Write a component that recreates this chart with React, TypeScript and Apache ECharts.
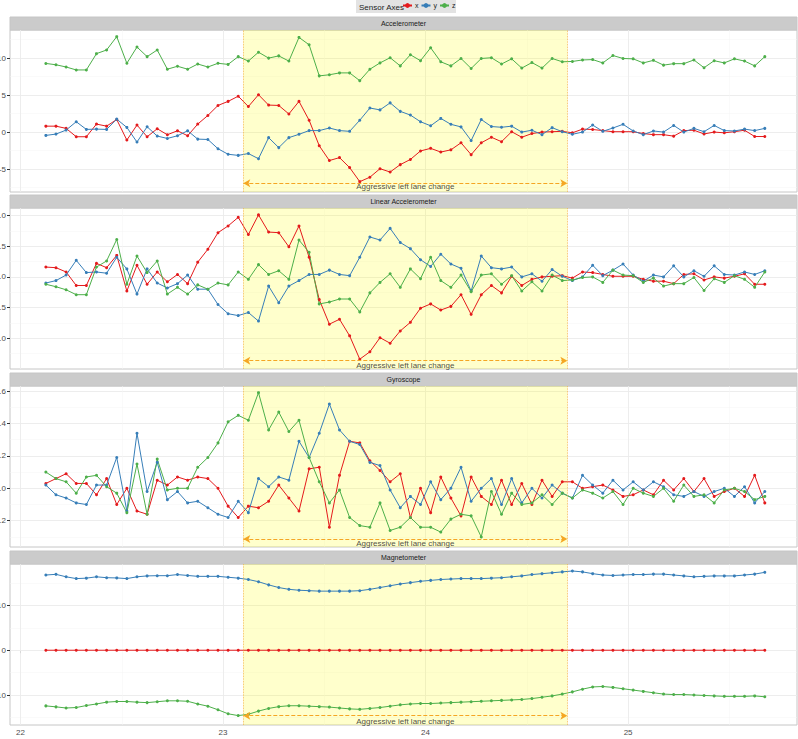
import React, { useEffect, useRef } from "react";
import * as echarts from "echarts";

// sampling grid (20 Hz) of the trip time axis
const times = Array.from({ length: 72 }, (_, i) => Math.round((22.125 + 0.05 * i) * 1000) / 1000);

const accX = [0.8, 0.8, 0.5, -0.63, -0.63, 1.08, 0.8, 1.7, -1.08, 0.95, -0.63, 0.45, -0.36, 0.18, -0.5, 1.08,
  2.25, 3.6, 4.15, 4.85, 3.45, 5.05, 3.65, 3.6, 2.45, 4.15, 1.6, -1.85, -3.85, -3.45, -4.8, -6.7, -6.1, -4.95, -5.4, -4.4,
  -3.7, -2.55, -2.2, -2.7, -2.4, -1.45, -3.05, -1.45, -0.7, -1.3, 0.05, -0.7, -0.2, 0.0, 0.05, 0.1, -0.1, 0.4, 0.35, 0.2,
  0.05, 0.05, 0.05, -0.2, -0.35, -0.35, -0.55, 0.2, 0.25, -0.25, 0.0, -0.1, 0.05, 0.25, -0.6, -0.6];
const accY = [-0.45, -0.27, 0.27, 1.4, 0.36, 0.4, 0.36, 1.75, 0.63, -1.35, 0.72, -0.54, -0.86, -0.5, 0.18, -0.95,
  -1.0, -2.25, -3.0, -3.15, -2.9, -3.6, -0.75, -2.1, -0.75, -0.3, 0.2, 0.2, 0.55, 0.2, 0.1, 1.6, 3.25, 3.0, 3.95, 2.8,
  2.3, 1.4, 0.85, 1.85, 1.05, 0.7, -1.15, 1.7, 0.75, 0.65, 0.8, 0.0, 0.25, -0.35, 0.6, 0.05, -0.3, 0.0, 0.95, 0.1,
  0.55, 1.05, 0.15, -0.35, 0.15, 0.0, 0.9, 0.0, 0.5, 0.05, 0.9, 0.2, 0.15, 0.4, 0.2, 0.5];
const accZ = [9.28, 9.1, 8.8, 8.4, 8.4, 10.6, 11.1, 12.9, 9.3, 11.5, 10.2, 11.1, 8.5, 8.9, 8.5, 9.2,
  8.8, 9.3, 9.15, 10.2, 9.6, 10.8, 10.0, 10.3, 9.6, 12.8, 11.8, 7.6, 7.75, 8.0, 8.0, 6.95, 8.5, 9.35, 10.05, 8.95,
  10.45, 9.65, 11.4, 9.5, 8.95, 9.95, 8.6, 9.95, 10.05, 9.2, 9.9, 8.65, 9.4, 8.65, 9.95, 9.5, 9.55, 9.75, 9.8, 9.35,
  10.35, 9.95, 9.9, 9.35, 9.7, 9.05, 9.25, 9.25, 9.75, 8.7, 9.65, 9.35, 9.9, 9.6, 8.95, 10.2];

const linX = [0.16, 0.15, 0.08, -0.14, -0.14, 0.22, 0.15, 0.35, -0.23, 0.19, -0.12, 0.08, -0.08, 0.04, -0.11, 0.24,
  0.45, 0.72, 0.83, 0.97, 0.69, 1.01, 0.73, 0.72, 0.49, 0.83, 0.32, -0.37, -0.77, -0.69, -0.96, -1.34, -1.22, -0.99, -1.08, -0.88,
  -0.74, -0.51, -0.44, -0.54, -0.48, -0.29, -0.61, -0.29, -0.14, -0.26, 0.01, -0.14, -0.04, 0.0, 0.01, 0.02, -0.02, 0.08, 0.07, 0.04,
  0.01, 0.01, 0.01, -0.04, -0.07, -0.07, -0.11, 0.04, 0.05, -0.05, 0.0, -0.02, 0.01, 0.05, -0.12, -0.12];
const linY = [-0.10, -0.06, 0.03, 0.27, 0.07, 0.08, 0.06, 0.32, 0.13, -0.28, 0.13, -0.10, -0.18, -0.11, 0.03, -0.20,
  -0.20, -0.45, -0.60, -0.63, -0.58, -0.72, -0.15, -0.42, -0.15, -0.06, 0.04, 0.04, 0.11, 0.04, 0.02, 0.32, 0.65, 0.60, 0.79, 0.56,
  0.46, 0.28, 0.17, 0.37, 0.21, 0.14, -0.23, 0.34, 0.15, 0.13, 0.16, 0.0, 0.05, -0.07, 0.12, 0.01, -0.06, 0.0, 0.19, 0.02,
  0.11, 0.21, 0.03, -0.07, 0.03, 0.0, 0.18, 0.0, 0.10, 0.01, 0.18, 0.04, 0.03, 0.08, 0.04, 0.10];
const linZ = [-0.12, -0.16, -0.21, -0.29, -0.29, 0.16, 0.26, 0.61, -0.12, 0.34, 0.07, 0.26, -0.28, -0.17, -0.28, -0.13,
  -0.20, -0.10, -0.13, 0.08, -0.04, 0.20, 0.04, 0.10, -0.04, 0.60, 0.40, -0.44, -0.41, -0.36, -0.36, -0.57, -0.26, -0.09, 0.05, -0.17,
  0.13, -0.03, 0.32, -0.06, -0.17, 0.03, -0.24, 0.03, 0.05, -0.12, 0.02, -0.23, -0.08, -0.23, 0.03, -0.06, -0.05, -0.01, 0.0, -0.09,
  0.11, 0.03, 0.02, -0.09, -0.02, -0.15, -0.11, -0.11, -0.01, -0.22, -0.03, -0.09, 0.02, -0.04, -0.17, 0.08];

const gyroX = [0.03, 0.06, 0.09, 0.03, 0.03, -0.04, 0.06, -0.10, 0.00, -0.14, -0.16, 0.05, 0.02, 0.07, 0.05, 0.07,
  0.06, 0.00, -0.11, -0.18, -0.11, -0.12, -0.08, 0.02, -0.06, -0.14, 0.12, 0.13, -0.24, 0.08, 0.29, 0.28, 0.17, 0.11, 0.04, 0.09,
  -0.18, 0.00, -0.15, 0.07, -0.06, -0.17, 0.07, -0.05, -0.10, 0.05, -0.10, 0.03, -0.10, 0.05, -0.05, 0.04, 0.04, 0.00, 0.01, 0.02,
  -0.01, -0.05, -0.04, -0.01, -0.04, 0.05, -0.01, 0.06, -0.02, 0.06, -0.05, -0.02, 0.00, -0.05, 0.08, -0.09];
const gyroY = [0.02, -0.04, -0.06, -0.09, -0.10, 0.02, 0.02, 0.19, -0.14, 0.34, -0.02, 0.16, -0.07, -0.02, -0.09, -0.08,
  -0.12, -0.16, -0.18, -0.08, -0.15, 0.06, 0.01, 0.07, 0.05, 0.29, 0.19, 0.34, 0.52, 0.36, 0.29, 0.27, 0.16, 0.14, -0.01, -0.12,
  -0.05, -0.10, 0.04, -0.07, 0.00, 0.13, -0.08, 0.00, 0.06, -0.10, 0.06, -0.09, 0.00, -0.06, 0.02, -0.03, -0.06, 0.08, 0.02, -0.03,
  0.05, -0.01, 0.04, -0.01, 0.04, 0.01, -0.04, -0.05, -0.02, -0.05, -0.02, 0.00, -0.05, 0.01, -0.09, -0.02];
const gyroZ = [0.10, 0.06, 0.04, -0.03, 0.07, 0.08, 0.01, -0.03, -0.15, 0.15, -0.16, 0.18, -0.01, 0.00, 0.00, 0.13,
  0.19, 0.28, 0.41, 0.45, 0.42, 0.59, 0.36, 0.47, 0.35, 0.42, 0.19, 0.04, -0.09, -0.01, -0.18, -0.23, -0.24, -0.09, -0.26, -0.24,
  -0.18, -0.24, -0.24, -0.27, -0.19, -0.16, -0.17, -0.30, -0.02, -0.16, -0.03, -0.10, -0.09, -0.04, -0.10, -0.03, -0.06, -0.01, -0.03, -0.06,
  -0.02, -0.10, 0.00, -0.03, -0.05, 0.00, -0.08, 0.02, -0.05, -0.04, -0.09, -0.01, 0.00, -0.02, -0.07, -0.05];

const magX = [0, 0, 0, 0, 0, 0, 0, 0, 0, 0, 0, 0, 0, 0, 0, 0, 0, 0, 0, 0, 0, 0, 0, 0, 0, 0, 0, 0, 0, 0, 0, 0, 0, 0, 0, 0,
  0, 0, 0, 0, 0, 0, 0, 0, 0, 0, 0, 0, 0, 0, 0, 0, 0, 0, 0, 0, 0, 0, 0, 0, 0, 0, 0, 0, 0, 0, 0, 0, 0, 0, 0, 0];
const magY = [16.8, 16.95, 16.4, 16.0, 16.1, 16.4, 16.2, 16.15, 16.0, 16.4, 16.6, 16.65, 16.65, 16.9, 16.7, 16.5,
  16.5, 16.5, 16.3, 16.1, 15.8, 15.3, 14.6, 14.0, 13.6, 13.4, 13.3, 13.2, 13.2, 13.2, 13.2, 13.3, 13.6, 14.0, 14.4, 14.8,
  15.1, 15.4, 15.6, 15.8, 15.9, 16.0, 16.0, 16.0, 16.1, 16.2, 16.4, 16.6, 16.9, 17.1, 17.3, 17.5, 17.7, 17.5, 17.1, 16.8,
  16.7, 16.8, 16.9, 16.9, 17.0, 17.0, 16.8, 16.6, 16.4, 16.5, 16.6, 16.6, 16.6, 16.8, 17.0, 17.4];
const magZ = [-12.43, -12.65, -12.9, -12.8, -12.35, -12.0, -11.6, -11.45, -11.45, -11.6, -11.7, -11.5, -11.3, -11.3, -11.4, -12.0,
  -12.5, -13.3, -14.2, -14.6, -14.3, -13.6, -13.0, -12.6, -12.4, -12.4, -12.5, -12.6, -12.7, -12.9, -13.1, -13.2, -13.0, -12.8, -12.5, -12.2,
  -12.0, -11.9, -11.9, -11.8, -11.7, -11.6, -11.5, -11.4, -11.3, -11.2, -11.1, -11.0, -10.8, -10.5, -10.2, -9.8, -9.3, -8.7, -8.2, -8.1,
  -8.3, -8.6, -8.9, -9.2, -9.5, -9.8, -9.9, -9.9, -10.0, -10.1, -10.2, -10.3, -10.3, -10.3, -10.2, -10.4];

const panelTitles = ["Accelerometer", "Linear Accelerometer", "Gyroscope", "Magnetometer"];
const axisNames = ["x", "y", "z"];
const xTicks = [22, 23, 24, 25];
const xMinor = [22.5, 23.5, 24.5, 25.5];
const eventStart = 23.1;
const eventEnd = 24.7;
const eventLabel = "Aggressive left lane change";

const panelData = [
  [accX, accY, accZ],
  [linX, linY, linZ],
  [gyroX, gyroY, gyroZ],
  [magX, magY, magZ],
];

const yTicks = [[-5, 0, 5, 10], [-1, -0.5, 0, 0.5, 1], [-0.2, 0, 0.2, 0.4, 0.6], [-10, 0, 10]];
const yMinor = [[-7.5, -2.5, 2.5, 7.5, 12.5], [-1.25, -0.75, -0.25, 0.25, 0.75], [-0.3, -0.1, 0.1, 0.3, 0.5], [-15, -5, 5, 15]];
const yRange = [[-8.1, 13.8], [-1.5, 1.122], [-0.362, 0.631], [-16.7, 19.26]];
const yDecimals = [0, 1, 1, 0];
const arrowLevel = [-6.92, -1.365, -0.313, -14.63];
const labelLevel = [-7.38, -1.45, -0.339, -15.81];

const COLORS = ["#E41A1C", "#377EB8", "#4DAF4A"];
const XMIN = 21.948;
const XMAX = 25.834;
const GRID_LEFT = 10;
const GRID_WIDTH = 787;
const gridTops = [30, 208, 386, 564];
const gridHeights = [162, 161, 161, 161];
const STRIP_H = 13;
const FONT = "'Liberation Sans', Arial, Helvetica, sans-serif";

function buildOption() {
  const grid: any[] = [];
  const xAxis: any[] = [];
  const yAxis: any[] = [];
  const series: any[] = [];
  const graphic: any[] = [];

  // legend box
  graphic.push({ type: "rect", z: 0, shape: { x: 356, y: 0, width: 100, height: 13 }, style: { fill: "#e3e3e3" } });
  graphic.push({ type: "text", z: 1, style: { text: "Sensor Axes", x: 359, y: 7, fontSize: 8, fontFamily: FONT, fill: "#222", align: "left", verticalAlign: "middle" } });

  for (let k = 0; k < 4; k++) {
    const top = gridTops[k];
    const h = gridHeights[k];
    grid.push({
      left: GRID_LEFT, width: GRID_WIDTH, top, height: h, show: true, borderColor: "#c6c6c6", borderWidth: 1,
      backgroundColor: "#ffffff", containLabel: false, outerBoundsMode: "none",
    });
    graphic.push({ type: "rect", z: 0, shape: { x: GRID_LEFT, y: top - STRIP_H, width: GRID_WIDTH, height: STRIP_H }, style: { fill: "#cbcbcb", stroke: "#c6c6c6", lineWidth: 1 } });
    graphic.push({ type: "text", z: 1, style: { text: panelTitles[k], x: GRID_LEFT + GRID_WIDTH / 2, y: top - STRIP_H / 2, fontSize: 7, fontFamily: FONT, fill: "#1a1a1a", align: "center", verticalAlign: "middle" } });

    const last = k === 3;
    xAxis.push({
      gridIndex: k, type: "value", min: XMIN, max: XMAX,
      axisLine: { show: false }, splitLine: { show: false },
      axisTick: { show: last, customValues: xTicks, length: 3, lineStyle: { color: "#333" } },
      axisLabel: { show: last, customValues: xTicks, fontSize: 8, color: "#4d4d4d", margin: 3, fontFamily: FONT },
      name: last ? "Trip time in seconds" : "", nameLocation: "middle", nameGap: 16,
      nameTextStyle: { fontSize: 9, color: "#000", fontFamily: FONT },
    });
    const dec = yDecimals[k];
    yAxis.push({
      gridIndex: k, type: "value", min: yRange[k][0], max: yRange[k][1],
      axisLine: { show: false }, splitLine: { show: false },
      axisTick: { show: true, customValues: yTicks[k], length: 3, lineStyle: { color: "#333" } },
      axisLabel: { customValues: yTicks[k], fontSize: 8, color: "#4d4d4d", margin: 4, fontFamily: FONT, formatter: (v: number) => v.toFixed(dec) },
    });

    // background gridlines + highlighted event window
    const gl: any[] = [];
    yTicks[k].forEach((v) => gl.push({ yAxis: v, lineStyle: { color: "#ebebeb", width: 0.9, type: "solid" } }));
    yMinor[k].forEach((v) => gl.push({ yAxis: v, lineStyle: { color: "#f4f4f4", width: 0.5, type: "solid" } }));
    xTicks.forEach((v) => gl.push({ xAxis: v, lineStyle: { color: "#ebebeb", width: 0.9, type: "solid" } }));
    xMinor.forEach((v) => gl.push({ xAxis: v, lineStyle: { color: "#f4f4f4", width: 0.5, type: "solid" } }));
    series.push({
      type: "line", name: "bg" + k, xAxisIndex: k, yAxisIndex: k, data: [[23.9, 0]], symbol: "none", silent: true,
      lineStyle: { opacity: 0 }, z: 1,
      markLine: { silent: true, z: 1, symbol: ["none", "none"], label: { show: false }, data: gl, animation: false },
      markArea: { silent: true, z: 2, itemStyle: { color: "rgba(255,255,0,0.2)" }, data: [[{ xAxis: eventStart }, { xAxis: eventEnd }]], animation: false },
    });

    for (let s = 0; s < 3; s++) {
      const arr = panelData[k][s];
      series.push({
        type: "line", name: axisNames[s], xAxisIndex: k, yAxisIndex: k,
        data: times.map((t, i) => [t, arr[i]]),
        symbol: "circle", symbolSize: 3, showSymbol: true,
        itemStyle: { color: COLORS[s] }, lineStyle: { color: COLORS[s], width: 1 }, z: 3,
      });
    }

    // annotation: dashed double arrow, dotted bounds, label
    series.push({
      type: "scatter", name: "ann" + k, xAxisIndex: k, yAxisIndex: k,
      data: [[(eventStart + eventEnd) / 2, labelLevel[k]]], symbolSize: 1, silent: true,
      itemStyle: { color: "rgba(0,0,0,0)" }, z: 5,
      label: { show: true, position: "inside", formatter: eventLabel, fontSize: 8, color: "#1a1a1a", fontFamily: FONT },
      markLine: {
        silent: true, z: 4, symbol: ["none", "none"], label: { show: false }, animation: false,
        data: [
          [
            { coord: [eventStart, arrowLevel[k]], symbol: "arrow", symbolSize: [6, 7] },
            { coord: [eventEnd, arrowLevel[k]], symbol: "arrow", symbolSize: [6, 7], lineStyle: { color: "#F5A623", type: "dashed", width: 1 } },
          ],
          { xAxis: eventStart, lineStyle: { color: "#F5B041", type: "dotted", width: 0.8 } },
          { xAxis: eventEnd, lineStyle: { color: "#F5B041", type: "dotted", width: 0.8 } },
        ],
        lineStyle: { color: "#F5A623", type: "dashed", width: 1 },
      },
    });
  }

  return {
    animation: false,
    textStyle: { fontFamily: FONT },
    grid, xAxis, yAxis, series, graphic,
    legend: {
      data: axisNames, left: 402, top: 2, padding: 0, itemWidth: 9, itemHeight: 6, itemGap: 2,
      selectedMode: false, textStyle: { fontSize: 7, color: "#222", fontFamily: FONT, padding: [0, 0, 0, -2] },
    },
  };
}

export default function App() {
  const ref = useRef<HTMLDivElement>(null);
  useEffect(() => {
    if (!ref.current) return;
    const chart = echarts.init(ref.current, null, { renderer: "svg" });
    chart.setOption(buildOption() as any);
    return () => chart.dispose();
  }, []);
  return <div ref={ref} style={{ position: "absolute", left: 0, top: 0, width: 798, height: 739, background: "#fff" }} />;
}
